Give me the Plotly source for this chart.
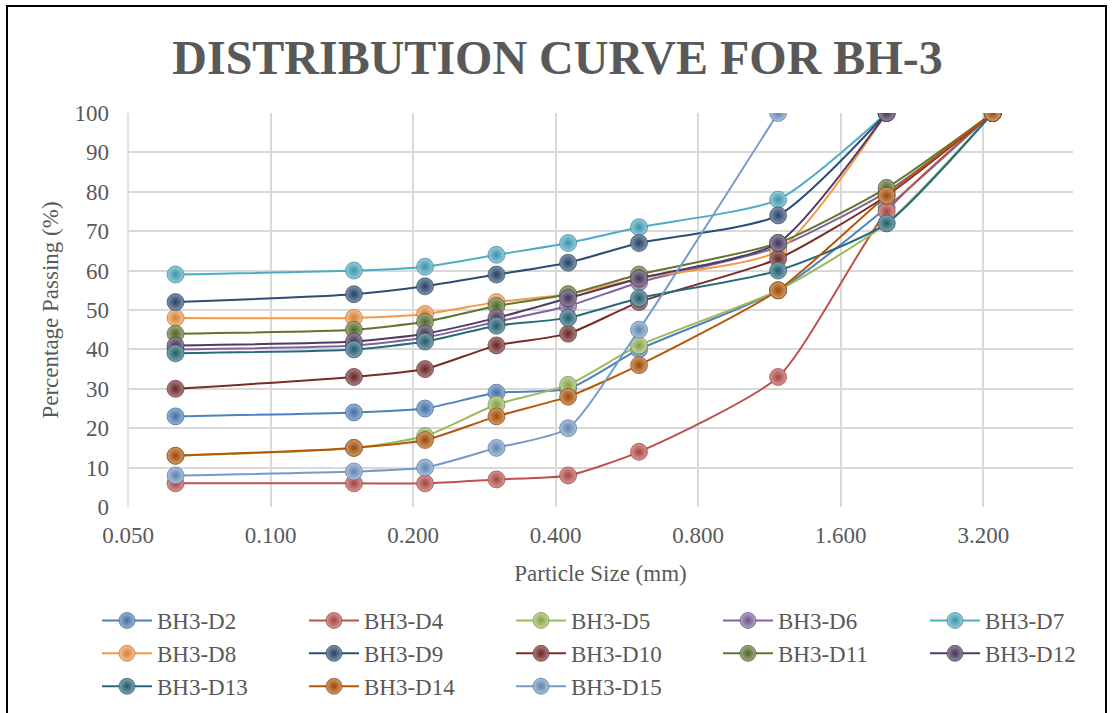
import math
import plotly.graph_objects as go

sizes = [0.063, 0.150, 0.212, 0.300, 0.425, 0.600, 1.18, 2.00, 3.35]
x_ticks = [0.05, 0.1, 0.2, 0.4, 0.8, 1.6, 3.2]
x_tick_labels = ["0.050", "0.100", "0.200", "0.400", "0.800", "1.600", "3.200"]
y_ticks = [0, 10, 20, 30, 40, 50, 60, 70, 80, 90, 100]

names = ["BH3-D2", "BH3-D4", "BH3-D5", "BH3-D6", "BH3-D7", "BH3-D8", "BH3-D9",
         "BH3-D10", "BH3-D11", "BH3-D12", "BH3-D13", "BH3-D14", "BH3-D15"]
bh3_d2 = [23, 24, 25, 29, 30, 40, 55, 76, 100]
bh3_d4 = [6, 6, 6, 7, 8, 14, 33, 75, 100]
bh3_d5 = [13, 15, 18, 26, 31, 41, 55, 72, 100]
bh3_d6 = [40, 41, 43, 47, 51, 57, 66, 80, 100]
bh3_d7 = [59, 60, 61, 64, 67, 71, 78, 100]
bh3_d8 = [48, 48, 49, 52, 54, 58, 65, 100]
bh3_d9 = [52, 54, 56, 59, 62, 67, 74, 100]
bh3_d10 = [30, 33, 35, 41, 44, 52, 63, 79, 100]
bh3_d11 = [44, 45, 47, 51, 54, 59, 67, 81, 100]
bh3_d12 = [41, 42, 44, 48, 53, 58, 67, 100]
bh3_d13 = [39, 40, 42, 46, 48, 53, 60, 72, 100]
bh3_d14 = [13, 15, 17, 23, 28, 36, 55, 79, 100]
bh3_d15 = [8, 9, 10, 15, 20, 45, 100]
series = [bh3_d2, bh3_d4, bh3_d5, bh3_d6, bh3_d7, bh3_d8, bh3_d9,
          bh3_d10, bh3_d11, bh3_d12, bh3_d13, bh3_d14, bh3_d15]
colors = ["#4F81BD", "#C0504D", "#9BBB59", "#8064A2", "#4BACC6", "#F79646", "#2C4D75",
          "#772C2A", "#5F7530", "#4D3B62", "#276A7C", "#B65708", "#729ACA"]


def mix(hexc, target, t):
    r, g, b = int(hexc[1:3], 16), int(hexc[3:5], 16), int(hexc[5:7], 16)
    tr, tg, tb = target
    return "rgb(%d,%d,%d)" % (r + (tr - r) * t, g + (tg - g) * t, b + (tb - b) * t)


FONT = "Liberation Serif, Times New Roman, serif"
TXT = "#595959"

fig = go.Figure()
for name, vals, col in zip(names, series, colors):
    fig.add_trace(go.Scatter(
        x=sizes[:len(vals)], y=vals, name=name, mode="lines+markers",
        line=dict(color=col, width=2, shape="spline", smoothing=0.6),
        marker=dict(size=17, color=mix(col, (255, 255, 255), 0.4),
                    gradient=dict(type="radial", color=mix(col, (0, 0, 0), 0.15)),
                    line=dict(color=mix(col, (0, 0, 0), 0.35), width=0.6)),
    ))

# plot area pixel geometry
L, R, T, B = 128, 42, 113, 206
W, H = 1115, 713
pw, ph = W - L - R, H - T - B


def px(xpix):
    return (xpix - L) / pw


def py(ypix):
    return (H - B - ypix) / ph


fig.update_layout(
    width=W, height=H,
    margin=dict(l=L, r=R, t=T, b=B, autoexpand=False),
    paper_bgcolor="white", plot_bgcolor="white",
    font=dict(family=FONT, color=TXT, size=23),
    title=dict(text="DISTRIBUTION CURVE FOR BH-3", x=0.5, xanchor="center",
               y=1 - 57 / H, yanchor="middle",
               font=dict(family=FONT, size=48, color=TXT, weight="bold")),
    xaxis=dict(type="log", range=[math.log10(0.05), math.log10(4.95)],
               tickvals=x_ticks, ticktext=x_tick_labels,
               showgrid=True, gridcolor="#d9d9d9", gridwidth=1.5,
               zeroline=False, showline=False, ticks="",
               tickfont=dict(size=23, color=TXT), ticklabelstandoff=12,
               title=dict(text="Particle Size (mm)", font=dict(size=23, color=TXT), standoff=17)),
    yaxis=dict(range=[0, 100], tickvals=y_ticks,
               showgrid=True, gridcolor="#d9d9d9", gridwidth=1.5,
               zeroline=False, showline=False, ticks="",
               tickfont=dict(size=23, color=TXT), ticklabelstandoff=18,
               title=dict(text="Percentage Passing (%)", font=dict(size=23, color=TXT), standoff=9)),
    legend=dict(orientation="h", x=px(97), xanchor="left", y=py(599), yanchor="top",
                entrywidth=142, entrywidthmode="pixels", itemwidth=50,
                font=dict(size=23, color=TXT), bgcolor="rgba(0,0,0,0)",
                tracegroupgap=0),
    showlegend=True,
)

# chart border
fig.add_shape(type="rect", xref="paper", yref="paper",
              x0=px(7), x1=px(1106), y0=py(730), y1=py(6),
              line=dict(color="black", width=2), fillcolor="rgba(0,0,0,0)", layer="below")
# left boundary gridline of plot area
fig.add_shape(type="line", xref="paper", yref="paper", x0=0, x1=0, y0=0, y1=1,
              line=dict(color="#d9d9d9", width=1.5), layer="below")

fig.write_html("out.html")
